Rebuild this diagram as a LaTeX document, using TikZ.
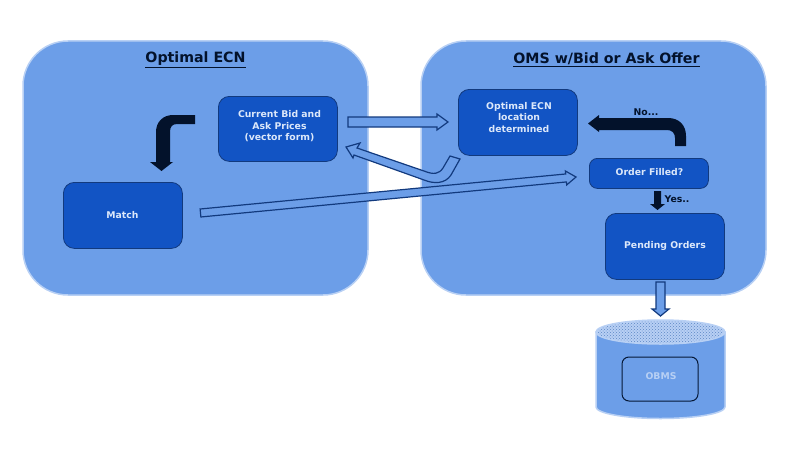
\documentclass[tikz,border=0pt]{standalone}
\usepackage{fontspec}
\setmainfont{DejaVu Sans}
\usetikzlibrary{calc,patterns}
\definecolor{panel}{HTML}{6C9EE8}
\definecolor{paneledge}{HTML}{B8D0F4}
\definecolor{boxfill}{HTML}{1254C4}
\definecolor{boxedge}{HTML}{123A7E}
\definecolor{inkdark}{HTML}{03122B}
\definecolor{lighttext}{HTML}{DCE8FA}
\tikzset{
  x=1pt,y=-1pt,
  panelbox/.style={draw=paneledge,line width=1.5pt,fill=panel,rounded corners=45pt},
  flowbox/.style={draw=boxedge,line width=.8pt,fill=boxfill,rounded corners=11pt,inner sep=0pt,anchor=north west},
  boxtext/.style={text=lighttext,font=\bfseries\fontsize{9.3}{11.5}\selectfont,align=center,inner sep=0pt},
  titletext/.style={text=inkdark,font=\bfseries\fontsize{14.2}{16}\selectfont,inner sep=0pt},
  smalltext/.style={text=inkdark,font=\bfseries\fontsize{9.3}{11}\selectfont,inner sep=0pt},
  hollowarrow/.style={draw=boxedge,line width=1.2pt,fill=panel,line join=miter},
  solidarrow/.style={draw=none,fill=inkdark},
}
% straight block arrow between two named coordinates: style, start, tip, shaft half-width, head half-width, head length
\newcommand\blockarrow[6][hollowarrow]{%
  \coordinate (ah) at ($(#3)!#6pt!(#2)$);
  \path[#1]
    ($(#2)!#4pt!90:(#3)$) --
    ($(ah)!#4pt!90:(#3)$) --
    ($(ah)!#5pt!90:(#3)$) --
    (#3) --
    ($(ah)!#5pt!-90:(#3)$) --
    ($(ah)!#4pt!-90:(#3)$) --
    ($(#2)!#4pt!-90:(#3)$) -- cycle;}
\begin{document}
\begin{tikzpicture}
\useasboundingbox (0,0) rectangle (810,460);
% panels
\draw[panelbox] (23,41) rectangle (368,295);
\draw[panelbox] (421,41) rectangle (766,295);
% titles
\node[titletext] (t1) at (195.5,60) {\underline{Optimal ECN}};
\node[titletext] (t2) at (606.5,60) {\underline{OMS w/Bid or Ask Offer}};
% boxes
\node[flowbox,minimum width=119pt,minimum height=65pt] (bid) at (218,96) {};
\node[boxtext] (bidt) at (279.5,126.5) {Current Bid and\\Ask Prices\\(vector form)};
\node[flowbox,minimum width=119pt,minimum height=66pt] (match) at (63,182) {};
\node[boxtext] (matcht) at (122.5,215.5) {Match};
\node[flowbox,minimum width=119pt,minimum height=66pt] (ecn) at (458,89) {};
\node[boxtext] (ecnt) at (519,117.5) {Optimal ECN\\location\\determined};
\node[flowbox,minimum width=119pt,minimum height=30pt,rounded corners=8pt] (filled) at (589,158) {};
\node[boxtext] (filledt) at (649.5,172.5) {Order Filled?};
\node[flowbox,minimum width=119pt,minimum height=66pt] (pending) at (605,213) {};
\node[boxtext] (pendingt) at (665,245.5) {Pending Orders};
% cylinder
\path[draw=paneledge,line width=1.5pt,fill=panel]
  (596,332) -- (596,407) arc[start angle=180,end angle=360,x radius=64.5pt,y radius=11.5pt]
  -- (725,332) -- cycle;
\path[draw=paneledge,line width=1.5pt,fill=paneledge] (660.5,332) ellipse[x radius=64.5pt,y radius=12pt];
\path[pattern=crosshatch dots,pattern color=panel!85!black] (660.5,332) ellipse[x radius=63pt,y radius=11pt];
\node[draw=inkdark!85!boxedge,line width=1pt,rounded corners=7pt,minimum width=76pt,minimum height=44pt,inner sep=0pt] (obms) at (660,379) {};
\node[text=paneledge,font=\bfseries\fontsize{9.3}{11}\selectfont,inner sep=0pt] (obmst) at (661,376) {OBMS};
% labels
\node[smalltext] (no) at (646,112) {No...};
\node[smalltext] (yes) at (677,199) {Yes..};
% black bent arrows
\coordinate (ba2) at (161.5,171);
\path[solidarrow] (195,115) -- (173,115) .. controls (163,115) and (156,122) .. (156,132) -- (156,162) -- (150,162) -- (ba2) -- (173,162) -- (170,162) -- (170,132) .. controls (170,127) and (172,124) .. (177,124) -- (195,124) -- cycle;
\coordinate (ba4) at (588,123.5);
\path[solidarrow] (675,146) -- (675,138) .. controls (675,133) and (672,130) .. (667,130) -- (599,130) -- (599,132) -- (ba4) -- (599,115) -- (599,118) -- (668,118) .. controls (679,118) and (686,125) .. (686,136) -- (686,146) -- cycle;
% straight solid arrows
\coordinate (ya) at (657.5,191);
\coordinate (yb) at (657.5,210);
\blockarrow[solidarrow]{ya}{yb}{3.5}{7.5}{6}
% hollow arrows
\coordinate (h1a) at (348,122);
\coordinate (h1b) at (448,122);
\blockarrow{h1a}{h1b}{5}{8}{11}
\coordinate (h2a) at (200.5,213);
\coordinate (h2b) at (576,177);
\blockarrow{h2a}{h2b}{4}{7}{10}
\coordinate (h3a) at (660.5,282);
\coordinate (h3b) at (660.5,316);
\blockarrow{h3a}{h3b}{4.5}{8.5}{7}
% bent hollow arrow
\path[hollowarrow] (450,156) -- (460,159) -- (451,175) .. controls (445,184) and (434,184) .. (424,180)
  -- (354,155) -- (353,158) -- (346,147) -- (360,143) -- (357,148) -- (424,171)
  .. controls (434,175) and (439,174) .. (443,168) -- cycle;
\end{tikzpicture}
\end{document}
